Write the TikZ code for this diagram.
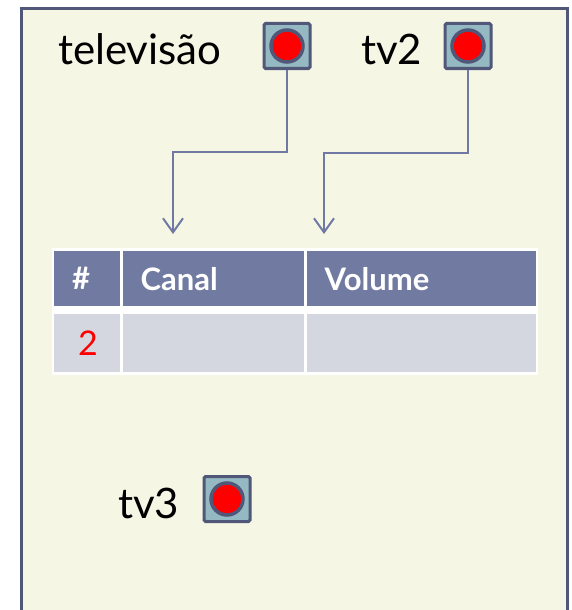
\documentclass[tikz,border=0pt]{standalone}
\usepackage{fontspec}
\setmainfont{Lato}
\usepackage{xcolor}
\usepackage{tikz}
\usetikzlibrary{arrows.meta, positioning}
\definecolor{Paper}{HTML}{F5F6E4}
\definecolor{Frame}{HTML}{505778}
\definecolor{Wire}{HTML}{7079A4}
\definecolor{BoxFill}{HTML}{95B9C2}
\definecolor{Head}{HTML}{717BA1}
\definecolor{Row}{HTML}{D4D7E0}

\begin{document}
\begin{tikzpicture}[
  x=1pt, y=-1pt,
  frame/.style={draw=Frame, line width=3pt, fill=Paper},
  ptr/.style={draw=Frame, line width=3pt, fill=BoxFill, rounded corners=1.5pt, minimum width=46pt, minimum height=45pt, inner sep=0pt},
  dot/.style={circle, draw=Frame, line width=3.5pt, fill=red, minimum size=32pt, inner sep=0pt},
  varlabel/.style={anchor=base west, font=\fontsize{42}{48}\selectfont, inner sep=0pt},
  ref/.style={-{Straight Barb[length=14pt, width=20pt]}, draw=Wire, line width=2pt},
  headcell/.style={anchor=north west, fill=Head, text=white, font=\bfseries\fontsize{31}{36}\selectfont, inner xsep=18pt, inner ysep=0pt, minimum height=55pt, align=left},
  rowcell/.style={anchor=north west, fill=Row, font=\fontsize{34}{38}\selectfont, inner xsep=18pt, inner ysep=0pt, minimum height=58pt, align=left}
]
\useasboundingbox (0,0) rectangle (571,610);
\clip (0,0) rectangle (571,610);
\draw[frame] (21.5,8.5) rectangle (567.5,640);

\node[varlabel] (tvlabel) at (58,65) {televisão};
\node[ptr] (tvptr) at (287,46) {};
\node[dot] (tvdot) at (tvptr) {};
\node[varlabel] (tv2label) at (361,65) {tv2};
\node[ptr] (tv2ptr) at (468,46) {};
\node[dot] (tv2dot) at (tv2ptr) {};
\node[varlabel] (tv3label) at (118,518) {tv3};
\node[ptr] (tv3ptr) at (227,499) {};
\node[dot] (tv3dot) at (tv3ptr) {};

\fill[white] (51.5,248) rectangle (538,375);
\node[headcell, text width=30pt] (hnum) at (54,251) {\#};
\node[headcell, text width=145pt] (hcanal) at (122.5,251) {Canal};
\node[headcell, text width=193pt] (hvolume) at (306.5,251) {Volume};
\node[rowcell, text width=30pt, text=red] (rnum) at (54,314) {\hspace{6pt}2};
\node[rowcell, text width=145pt] (rcanal) at (122.5,314) {};
\node[rowcell, text width=193pt] (rvolume) at (306.5,314) {};

\coordinate (canaltop) at (173,234);
\coordinate (volumetop) at (324,234);
\draw[ref] (tvptr.south) -- ++(0,82) -| (canaltop);
\draw[ref] (tv2ptr.south) -- ++(0,83) -| (volumetop);
\end{tikzpicture}
\end{document}
